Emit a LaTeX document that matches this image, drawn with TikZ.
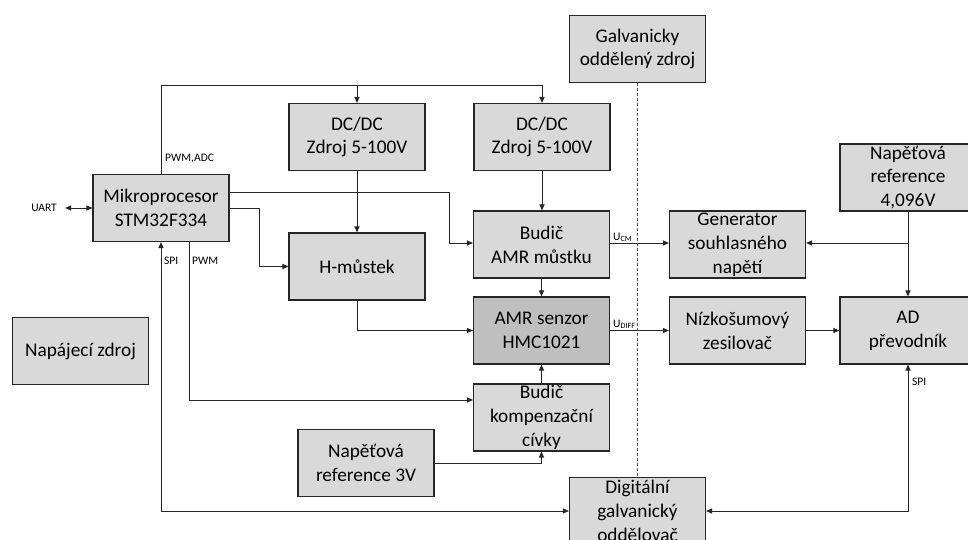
\documentclass[tikz,border=0pt]{standalone}
\usepackage{fontspec}
\setmainfont{Carlito}
\usetikzlibrary{arrows.meta}
\definecolor{boxfill}{HTML}{D9D9D9}
\definecolor{darkfill}{HTML}{BFBFBF}
\definecolor{edge}{HTML}{262626}
\tikzset{
  blk/.style={draw=edge, line width=1.1pt, fill=boxfill, minimum width=136pt, minimum height=67pt,
    align=center, inner sep=1pt, font=\fontsize{19.3}{23.8}\selectfont},
  conn/.style={draw=edge, line width=1pt},
  arr/.style={conn, -{Triangle[length=6pt,width=5pt]}},
  darr/.style={conn, {Triangle[length=6pt,width=5pt]}-{Triangle[length=6pt,width=5pt]}},
  lbl/.style={font=\fontsize{11.5}{13}\selectfont, inner sep=0pt},
}
\begin{document}
\begin{tikzpicture}[x=1pt,y=-1pt]
\useasboundingbox (0,0) rectangle (968,540);
% blocks
\node[blk] (galv) at (637.5,49) {Galvanicky\\oddělený zdroj};
\node[blk] (dc1) at (357,137) {DC/DC\\Zdroj 5-100V};
\node[blk] (dc2) at (542,137) {DC/DC\\Zdroj 5-100V};
\node[blk] (mcu) at (161,208) {Mikroprocesor\\STM32F334};
\node[blk] (hm) at (357,266.5) {H-můstek};
\node[blk] (bud) at (541.5,244.5) {Budič\\AMR můstku};
\node[blk, fill=darkfill] (amr) at (541.5,330.5) {AMR senzor\\HMC1021};
\node[blk] (gen) at (737.5,244.5) {Generator\\souhlasného\\napětí};
\node[blk] (nizk) at (737.5,330.5) {Nízkošumový\\zesilovač};
\node[blk] (ref4) at (908,177.5) {Napěťová\\reference\\4,096V};
\node[blk] (ad) at (908,330.5) {AD\\převodník};
\node[blk] (bk) at (541.5,417.5) {Budič\\kompenzační\\cívky};
\node[blk] (ref3) at (366,463) {Napěťová\\reference 3V};
\node[blk] (dig) at (637.5,511) {Digitální\\galvanický\\oddělovač};
\node[blk] (nap) at (80.5,351) {Napájecí zdroj};
% labels
\node[lbl, anchor=east] (uart) at (57,208) {UART};
\node[lbl, anchor=base west] (pwmadc) at (165,162) {PWM,ADC};
\node[lbl, anchor=base west] (spi1) at (164,264) {SPI};
\node[lbl, anchor=base west] (pwm1) at (192,264) {PWM};
\node[lbl, anchor=base west] (spi2) at (912,385) {SPI};
\node[lbl, anchor=base west] (ucm) at (613,240) {U\textsubscript{CM}};
\node[lbl, anchor=base west] (udiff) at (613,327) {U\textsubscript{DIFF}};
% connectors
\coordinate (top) at (161,86);
\draw[arr] (mcu.north) -- (top) -| (dc2.north);
\draw[arr] (top -| dc1.north) -- (dc1.north);
\draw[arr] ([yshift=16pt]mcu.east) -- (449,192) |- ([yshift=1.5pt]bud.west);
\draw[arr] (mcu.east) -- (259,208) |- (hm.west);
\draw[arr] (dc1.south) -- (hm.north);
\draw[arr] (dc2.south) -- (bud.north -| dc2.south);
\draw[arr] (bud.south) -- (amr.north);
\draw[arr] (hm.south) |- (amr.west);
\draw[arr] ([yshift=1.5pt]bud.east) -- ([yshift=1.5pt]gen.west);
\draw[arr] (amr.east) -- (nizk.west);
\draw[arr] (ref4.south) -- (ad.north);
\draw[arr] ([yshift=1.5pt]ref4.south |- gen.east) -- ([yshift=1.5pt]gen.east);
\draw[arr] (nizk.east) -- (ad.west);
\draw[darr] (ad.south) |- (dig.east);
\draw[darr] (mcu.south) |- (dig.west);
\draw[arr] ([xshift=28pt]mcu.south) |- ([yshift=17.5pt]bk.west);
\draw[arr] (bk.north) -- (amr.south);
\draw[arr] (ref3.east) -| (bk.south);
\draw[darr] (uart.east) ++(8,0) -- (mcu.west);
\draw[draw=edge!80, line width=1pt, dash pattern=on 3pt off 2pt] (galv.south) -- (dig.north);
\end{tikzpicture}
\end{document}
